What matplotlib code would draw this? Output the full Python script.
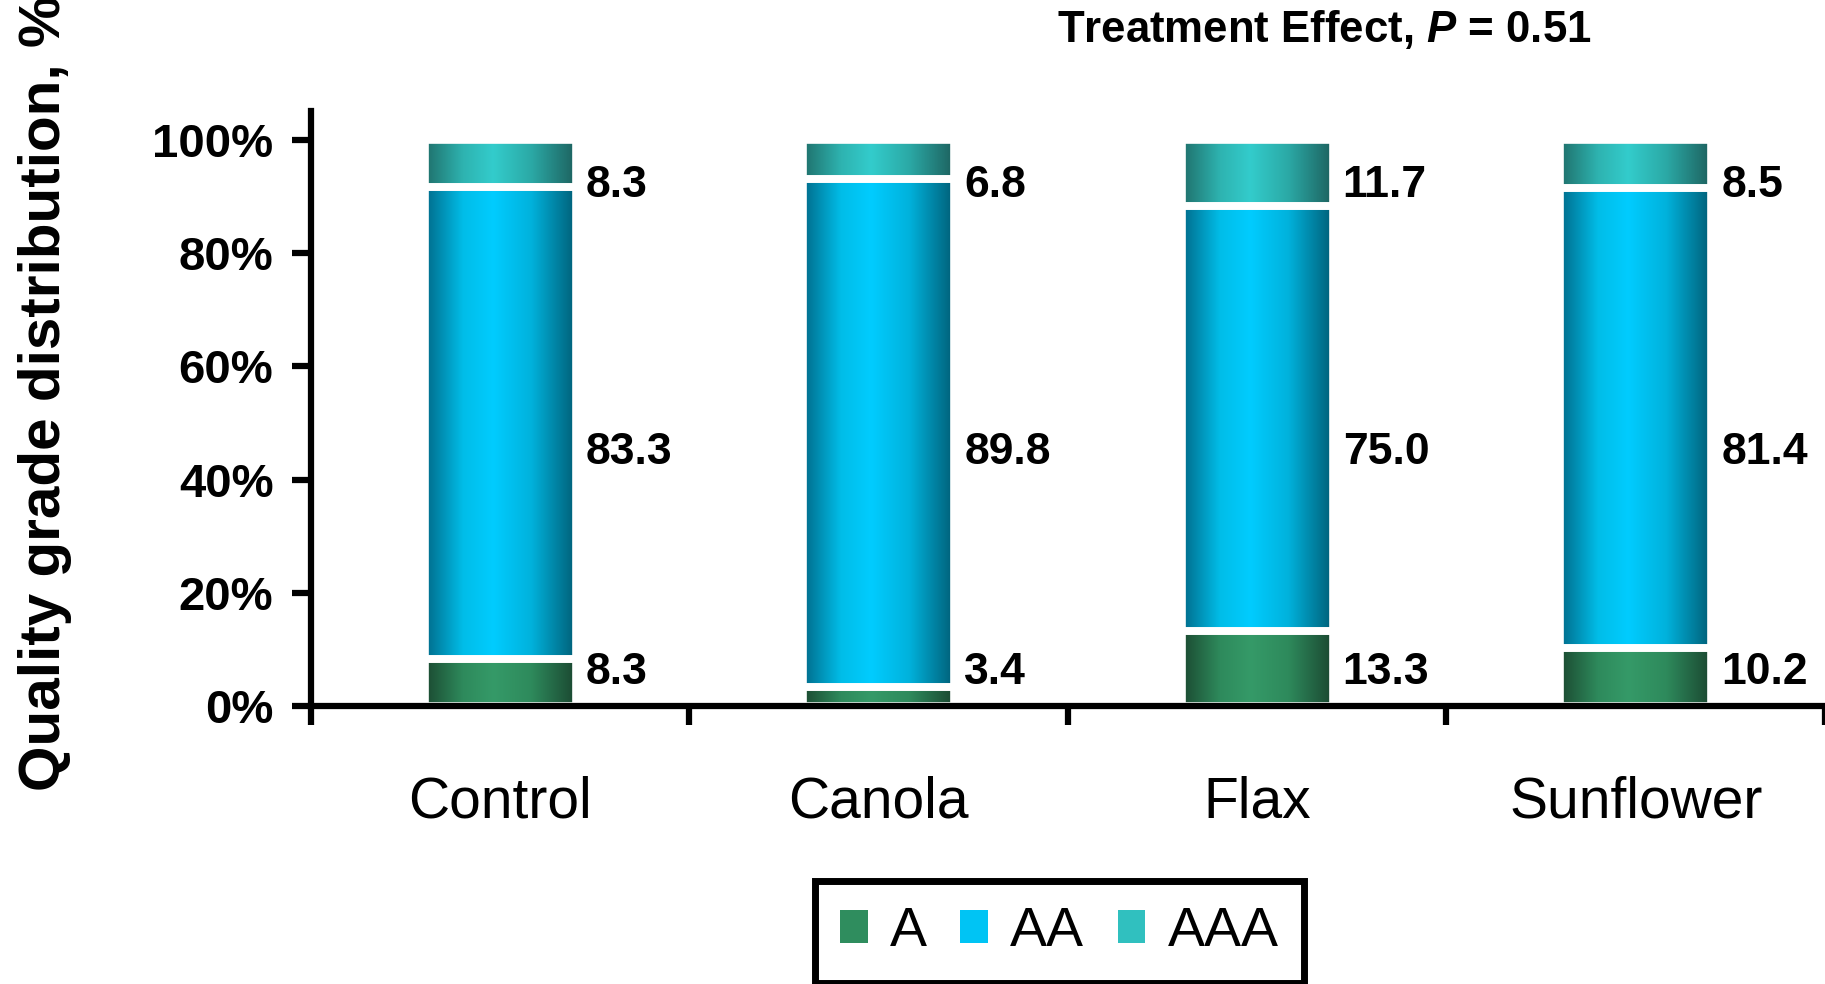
import numpy as np
import matplotlib
matplotlib.use("Agg")
import matplotlib.pyplot as plt
from matplotlib.colors import LinearSegmentedColormap
from matplotlib.patches import Patch
from matplotlib.ticker import FuncFormatter

plt.rcParams['font.family'] = ['Liberation Sans', 'DejaVu Sans']
plt.rcParams['mathtext.fontset'] = 'custom'
plt.rcParams['mathtext.it'] = 'Liberation Sans:italic:bold'
plt.rcParams['mathtext.rm'] = 'Liberation Sans:bold'

# data
categories = ["Control", "Canola", "Flax", "Sunflower"]
grades = ["A", "AA", "AAA"]
grade_a = [8.3, 3.4, 13.3, 10.2]
grade_aa = [83.3, 89.8, 75.0, 81.4]
grade_aaa = [8.3, 6.8, 11.7, 8.5]

# gradient colours (edge -> light centre -> edge) for each grade
grad_stops = [
    [(0, "#1b4a31"), (0.25, "#2e8a5c"), (0.45, "#359a68"), (0.7, "#2e8a5c"), (1, "#1a4630")],
    [(0, "#006b8a"), (0.25, "#00bde8"), (0.45, "#00ccff"), (0.7, "#00b2dc"), (1, "#005d75")],
    [(0, "#1f706b"), (0.25, "#2eb3b0"), (0.45, "#33cccc"), (0.7, "#2ba9a6"), (1, "#1d605d")],
]
legend_colors = ["#2f8d5e", "#00c4f4", "#30c0bf"]
cmaps = [LinearSegmentedColormap.from_list("g%d" % i, s) for i, s in enumerate(grad_stops)]
grad = np.linspace(0, 1, 256).reshape(1, -1)

fig = plt.figure(figsize=(18.25, 9.84), dpi=100)
ax = fig.add_axes([0.1704, 0.2825, 0.8296, 0.6051])

x = np.arange(len(categories))
data = np.array([grade_a, grade_aa, grade_aaa])
pct = data / data.sum(axis=0) * 100

bottom = np.zeros(len(categories))
for i, g in enumerate(grades):
    bars = ax.bar(x, pct[i], width=0.4, bottom=bottom, facecolor="none",
                  edgecolor="white", linewidth=5.5, zorder=2)
    for b in bars:
        x0, y0 = b.get_x(), b.get_y()
        ax.imshow(grad, extent=(x0, x0 + b.get_width(), y0, y0 + b.get_height()),
                  aspect="auto", cmap=cmaps[i], zorder=1.5, interpolation="bilinear")
    bottom += pct[i]

# value labels, placed in three rows beside the bars as in the original
label_rows = [5.9, 44.8, 92.0]
for i in range(len(grades)):
    for j in range(len(categories)):
        ax.annotate("%.1f" % data[i][j], xy=(x[j] + 0.2, label_rows[i]),
                    xytext=(7, 0), textcoords="offset points", va="center", ha="left",
                    fontsize=32, fontweight="bold", annotation_clip=False)

ax.set_xlim(-0.5, 3.5)
ax.set_ylim(0, 105.2)

for s in ["top", "right"]:
    ax.spines[s].set_visible(False)
for s in ["left", "bottom"]:
    ax.spines[s].set_linewidth(4.5)
    ax.spines[s].set_zorder(3)

ax.set_yticks(range(0, 101, 20))
ax.yaxis.set_major_formatter(FuncFormatter(lambda v, p: "%d%%" % v))
ax.tick_params(axis="y", length=14, width=4.5, labelsize=34, pad=13)
for lbl in ax.get_yticklabels():
    lbl.set_fontweight("bold")

ax.set_xticks(x)
ax.set_xticklabels(categories, fontsize=41)
ax.tick_params(axis="x", which="major", length=0, pad=50)
ax.set_xticks(np.arange(-0.5, 4, 1), minor=True)
ax.tick_params(axis="x", which="minor", length=14, width=4.5, direction="out")

fig.text(60 / 1825, 1 - 791 / 984, "Quality grade distribution, %", rotation=90,
         rotation_mode="anchor", ha="left", va="baseline", fontsize=42, fontweight="bold")

fig.text(1057 / 1825, 1 - 42 / 984, r"Treatment Effect, $P$ = 0.51",
         fontsize=31.5, fontweight="bold", va="baseline")

handles = [Patch(facecolor=c, edgecolor="none") for c in legend_colors]
leg = fig.legend(handles, grades, loc="upper left", bbox_to_anchor=(815 / 1825, 1 - 881 / 984),
                 ncol=3, fontsize=40, frameon=True, fancybox=False, edgecolor="black",
                 framealpha=1, handlelength=0.5, handleheight=0.55, handletextpad=0.4,
                 columnspacing=0.6, borderpad=0.45, borderaxespad=0)
leg.get_frame().set_linewidth(5)

fig.savefig("out.png", dpi=100)
